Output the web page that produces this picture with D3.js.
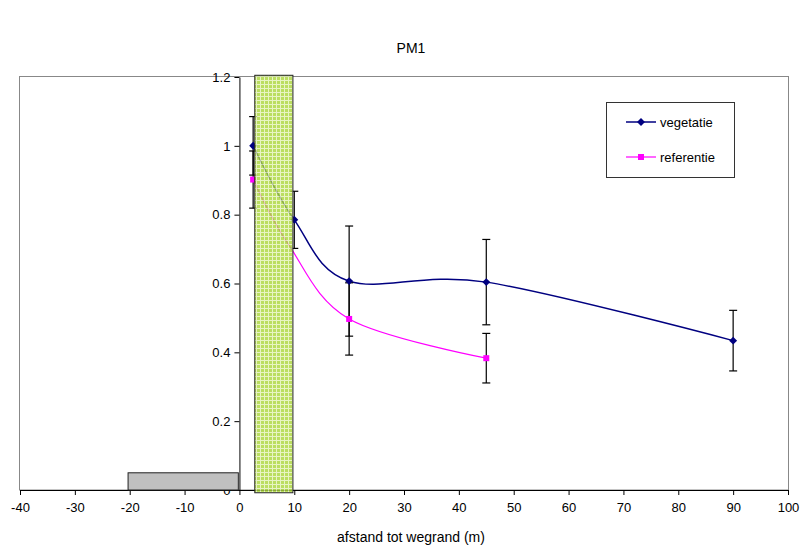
<!DOCTYPE html>
<html>
<head>
<meta charset="utf-8">
<script src="https://cdn.jsdelivr.net/npm/d3@7"></script>
<style>
  body { margin: 0; background: #fff; }
  text { font-family: "Liberation Sans", Arial, sans-serif; fill: #000; }
</style>
</head>
<body>
<div id="chart"></div>
<script>
// data
var xTicks = [-40, -30, -20, -10, 0, 10, 20, 30, 40, 50, 60, 70, 80, 90, 100];
var yTicks = [0, 0.2, 0.4, 0.6, 0.8, 1, 1.2];

var vegX = [2.5, 10, 20, 45, 90];
var vegY = [1.0, 0.785, 0.607, 0.604, 0.434];
var vegErr = [0.085, 0.083, 0.16, 0.124, 0.088];

var refX = [2.5, 9, 20, 45];
var refY = [0.902, 0.712, 0.497, 0.383];
var refErr = [0.083, null, 0.105, 0.072];

// vegetation strip and road (in data units)
var strip = [2.8, 9.75];
var road = [-20.3, -0.2, 0.05];

var svgWidth = 804;
var svgHeight = 554;

var svg = d3.select("#chart")
  .append("svg")
  .attr("width", svgWidth)
  .attr("height", svgHeight);

var x = d3.scaleLinear().domain([-40, 100]).range([20, 788]);
var y = d3.scaleLinear().domain([0, 1.2]).range([490, 77]);

// pattern for the green strip
var defs = svg.append("defs");
var pat = defs.append("pattern")
  .attr("id", "grid")
  .attr("width", 4)
  .attr("height", 4)
  .attr("patternUnits", "userSpaceOnUse");
pat.append("rect").attr("width", 4).attr("height", 4).attr("fill", "#aad63a");
pat.append("path").attr("d", "M0,0.5H4M0.5,0V4")
  .attr("stroke", "#e2f2b4").attr("stroke-width", 1);

// title
svg.append("text")
  .attr("x", 411).attr("y", 53)
  .attr("text-anchor", "middle")
  .style("font-size", "14px")
  .text("PM1");

// plot frame
svg.append("rect")
  .attr("x", 19.5).attr("y", 76.5)
  .attr("width", 769).attr("height", 413.5)
  .attr("fill", "none")
  .attr("stroke", "#888");

// axes
var bottomAxis = d3.axisBottom(x).tickValues(xTicks).tickSize(5).tickSizeOuter(0)
  .tickFormat(function(d) { return String(d); });
var leftAxis = d3.axisLeft(y).tickValues(yTicks).tickSize(5).tickSizeOuter(0)
  .tickFormat(function(d) { return String(d); });

var gx = svg.append("g")
  .attr("transform", "translate(0," + y(0) + ")")
  .call(bottomAxis);
gx.selectAll("text").style("font-size", "13px").attr("dy", "1.05em");

var gy = svg.append("g")
  .attr("transform", "translate(" + x(0) + ",0)")
  .call(leftAxis);
gy.selectAll("text").style("font-size", "13px").attr("x", -9);

svg.selectAll(".domain").attr("stroke", "#000");
svg.selectAll(".tick line").attr("stroke", "#000");

// x axis label
svg.append("text")
  .attr("x", 411).attr("y", 542)
  .attr("text-anchor", "middle")
  .style("font-size", "14px")
  .text("afstand tot wegrand (m)");

// series
var vegData = vegX.map(function(d, i) { return { x: d, y: vegY[i], e: vegErr[i] }; });
var refData = refX.map(function(d, i) { return { x: d, y: refY[i], e: refErr[i] }; });

var line = d3.line()
  .x(function(d) { return x(d.x); })
  .y(function(d) { return y(d.y); })
  .curve(d3.curveCatmullRom.alpha(0));

svg.append("path").datum(refData)
  .attr("d", line)
  .attr("fill", "none")
  .attr("stroke", "#ff00ff")
  .attr("stroke-width", 1.2);

svg.append("path").datum(vegData)
  .attr("d", line)
  .attr("fill", "none")
  .attr("stroke", "#000080")
  .attr("stroke-width", 1.5);

// error bars
function errorBars(data) {
  var g = svg.append("g");
  var dd = data.filter(function(d) { return d.e != null; });
  g.selectAll("line.v").data(dd).enter().append("line")
    .attr("x1", function(d) { return x(d.x); })
    .attr("x2", function(d) { return x(d.x); })
    .attr("y1", function(d) { return y(d.y + d.e); })
    .attr("y2", function(d) { return y(d.y - d.e); })
    .attr("stroke", "#000").attr("stroke-width", 1.2);
  [1, -1].forEach(function(s) {
    g.selectAll("line.c" + s).data(dd).enter().append("line")
      .attr("x1", function(d) { return x(d.x) - 4; })
      .attr("x2", function(d) { return x(d.x) + 4; })
      .attr("y1", function(d) { return y(d.y + s * d.e); })
      .attr("y2", function(d) { return y(d.y + s * d.e); })
      .attr("stroke", "#000").attr("stroke-width", 1.2);
  });
}
errorBars(vegData);
errorBars(refData);

// markers (only where an error bar exists for the reference series)
svg.selectAll("rect.ref").data(refData.filter(function(d) { return d.e != null; }))
  .enter().append("rect")
  .attr("x", function(d) { return x(d.x) - 3; })
  .attr("y", function(d) { return y(d.y) - 3; })
  .attr("width", 6).attr("height", 6)
  .attr("fill", "#ff00ff");

var diamond = d3.symbol().type(d3.symbolDiamond2).size(40);
svg.selectAll("path.veg").data(vegData).enter().append("path")
  .attr("d", diamond)
  .attr("transform", function(d) { return "translate(" + x(d.x) + "," + y(d.y) + ")"; })
  .attr("fill", "#000080");

// vegetation strip on top
svg.append("rect")
  .attr("x", x(strip[0])).attr("y", y(1.205))
  .attr("width", x(strip[1]) - x(strip[0]))
  .attr("height", y(-0.008) - y(1.205))
  .attr("fill", "url(#grid)")
  .attr("fill-opacity", 0.8)
  .attr("stroke", "#222");

// road
svg.append("rect")
  .attr("x", x(road[0])).attr("y", y(road[2]))
  .attr("width", x(road[1]) - x(road[0]))
  .attr("height", y(0) - y(road[2]))
  .attr("fill", "#c0c0c0")
  .attr("stroke", "#222");

// legend
var legend = svg.append("g");
legend.append("rect")
  .attr("x", 606.5).attr("y", 102.5)
  .attr("width", 128).attr("height", 75)
  .attr("fill", "#fff").attr("stroke", "#333");

var legendItems = [
  { name: "vegetatie", color: "#000080", ly: 122 },
  { name: "referentie", color: "#ff00ff", ly: 157 }
];
legendItems.forEach(function(it, i) {
  legend.append("line")
    .attr("x1", 626).attr("x2", 656)
    .attr("y1", it.ly).attr("y2", it.ly)
    .attr("stroke", it.color).attr("stroke-width", i == 0 ? 1.5 : 1.2);
  if (i == 0) {
    legend.append("path").attr("d", diamond)
      .attr("transform", "translate(641," + it.ly + ")")
      .attr("fill", it.color);
  } else {
    legend.append("rect").attr("x", 638).attr("y", it.ly - 3)
      .attr("width", 6).attr("height", 6).attr("fill", it.color);
  }
  legend.append("text")
    .attr("x", 660).attr("y", it.ly + 4.5)
    .style("font-size", "13px")
    .text(it.name);
});
</script>
</body>
</html>
